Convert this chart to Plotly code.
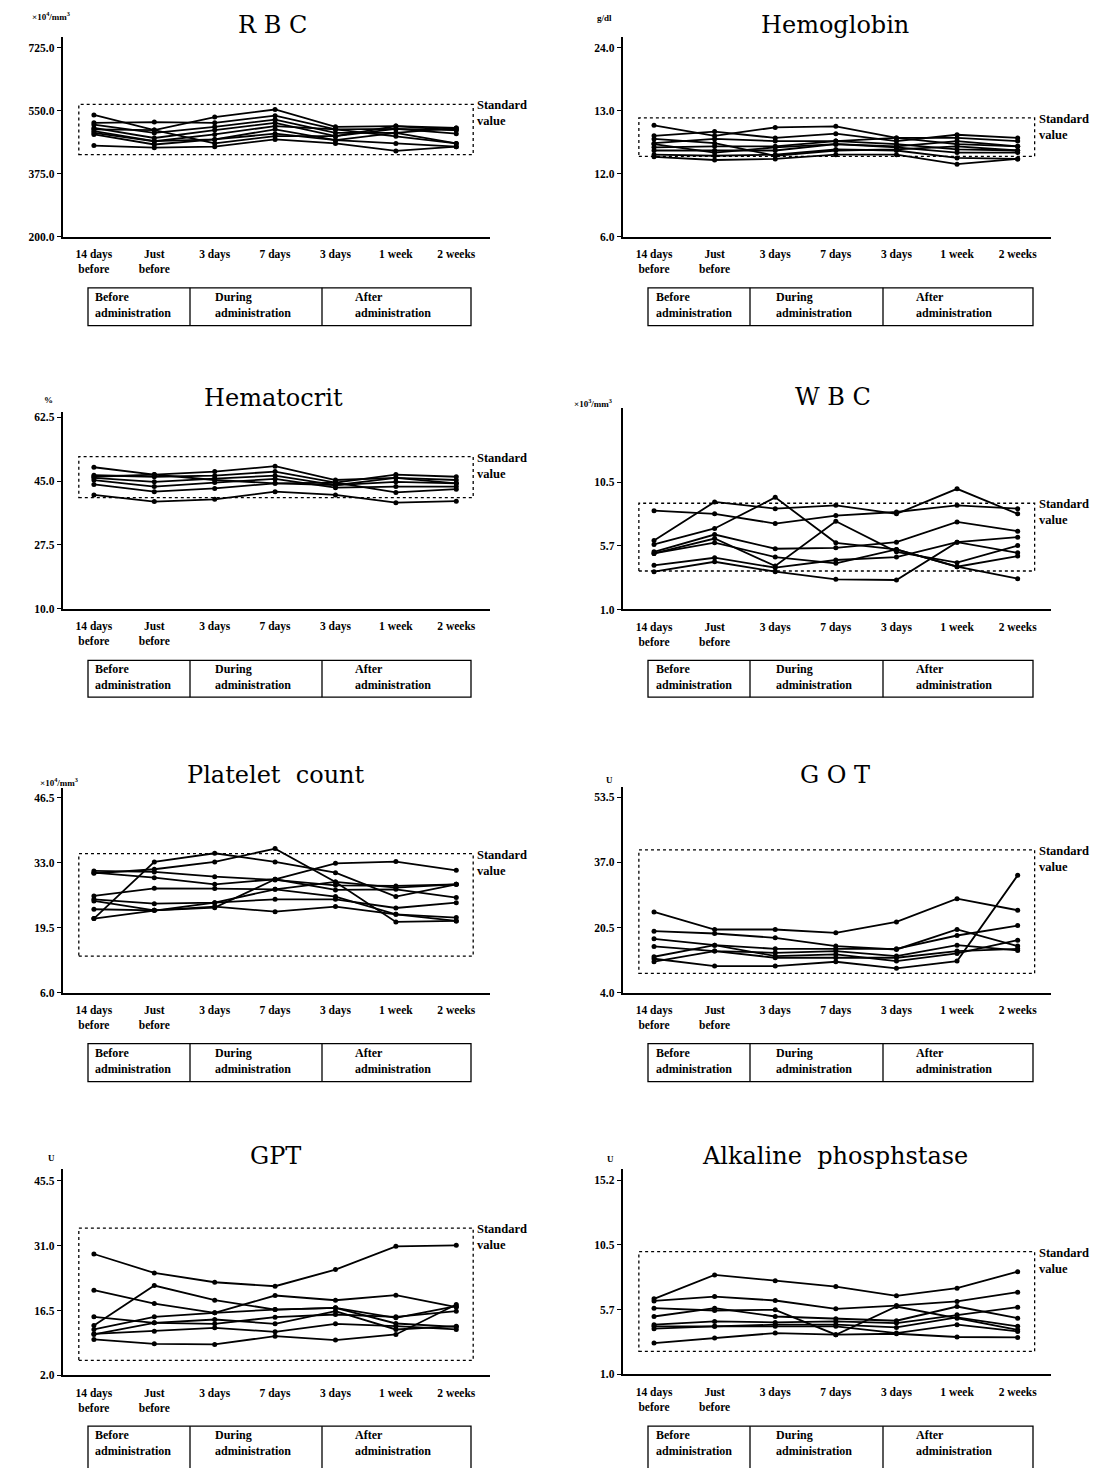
import plotly.graph_objects as go

# ---------------------------------------------------------------- data
timepoints = ["14 days<br>before", "Just<br>before", "3 days", "7 days",
              "3 days", "1 week", "2 weeks"]
phases = ["Before<br>administration", "During<br>administration",
          "After<br>administration"]

rbc = [
    [538, 496, 532, 553, 505, 507, 502],
    [516, 518, 516, 536, 498, 499, 496],
    [511, 488, 505, 525, 488, 488, 502],
    [502, 474, 496, 516, 479, 499, 486],
    [488, 465, 484, 507, 498, 479, 459],
    [484, 456, 470, 498, 468, 459, 450],
    [453, 447, 450, 470, 459, 438, 450],
    [498, 496, 459, 479, 479, 507, 496],
    [493, 465, 470, 486, 468, 488, 459],
]
rbc_std = [428, 567]

hemoglobin = [
    [16.6, 15.6, 16.4, 16.5, 15.4, 14.8, 14.6],
    [15.6, 16.0, 15.4, 15.8, 15.1, 15.7, 15.4],
    [14.9, 15.3, 15.1, 15.1, 15.4, 15.4, 15.1],
    [14.5, 14.6, 14.6, 15.1, 14.8, 14.3, 14.2],
    [14.2, 14.2, 14.2, 14.8, 14.5, 14.0, 14.0],
    [13.8, 13.7, 13.8, 14.3, 14.2, 13.5, 13.4],
    [13.6, 13.3, 13.4, 13.8, 13.8, 12.9, 13.4],
    [14.8, 14.0, 14.5, 14.8, 14.6, 15.1, 14.6],
    [15.3, 14.9, 13.7, 14.2, 14.3, 14.6, 14.2],
]
hemoglobin_std = [13.64, 17.3]

hematocrit = [
    [48.8, 46.8, 47.6, 49.1, 45.3, 45.9, 45.3],
    [46.6, 46.2, 46.5, 47.6, 44.6, 46.8, 46.2],
    [45.9, 44.8, 45.7, 46.5, 43.9, 44.8, 44.4],
    [45.3, 43.5, 44.6, 45.6, 43.2, 43.5, 43.5],
    [44.1, 42.1, 43.0, 44.4, 44.6, 41.9, 42.8],
    [41.2, 39.4, 40.0, 42.1, 41.2, 39.1, 39.5],
    [46.2, 46.8, 45.3, 44.4, 43.9, 45.9, 44.4],
]
hematocrit_std = [40.45, 51.7]

wbc = [
    [8.37, 8.13, 7.41, 8.00, 8.27, 8.77, 8.52],
    [6.15, 9.02, 8.52, 8.77, 8.13, 10.0, 8.13],
    [5.85, 7.04, 9.36, 5.97, 5.48, 4.19, 3.30],
    [5.30, 6.59, 5.53, 5.60, 6.02, 7.53, 6.84],
    [5.18, 6.29, 4.24, 7.58, 5.30, 4.49, 5.77],
    [4.29, 4.86, 4.12, 4.69, 4.91, 6.02, 6.39],
    [3.82, 4.56, 3.82, 3.25, 3.20, 6.02, 5.23],
    [5.18, 5.98, 4.91, 4.44, 5.48, 4.19, 4.98],
]
wbc_std = [3.87, 8.92]

platelet = [
    [21.37, 33.14, 34.94, 33.14, 30.92, 25.94, 28.50],
    [30.78, 31.62, 33.14, 35.91, 28.98, 20.68, 20.88],
    [31.27, 31.06, 30.09, 29.40, 28.29, 28.15, 28.50],
    [30.92, 29.88, 28.50, 29.54, 27.32, 27.46, 25.73],
    [26.08, 27.67, 27.60, 27.46, 28.98, 27.81, 28.50],
    [25.38, 24.48, 24.69, 25.38, 25.38, 23.58, 24.69],
    [23.31, 23.10, 23.65, 29.54, 32.86, 33.21, 31.41],
    [25.04, 23.10, 23.86, 22.82, 23.86, 22.27, 21.58],
    [21.37, 23.10, 24.69, 27.46, 25.94, 22.27, 20.88],
]
platelet_std = [13.6, 34.87]

got = [
    [24.46, 20.00, 20.00, 19.15, 21.93, 27.82, 24.88],
    [19.57, 18.99, 17.89, 15.79, 14.94, 20.00, 15.79],
    [17.64, 16.04, 15.11, 15.11, 15.11, 18.48, 21.01],
    [15.70, 14.52, 14.10, 14.52, 13.26, 16.04, 14.69],
    [13.09, 16.04, 13.26, 13.68, 12.00, 13.93, 17.30],
    [12.59, 10.74, 10.74, 11.83, 10.15, 12.00, 33.72],
    [11.83, 14.52, 12.84, 12.84, 12.84, 14.52, 15.11],
]
got_std = [8.88, 40.2]

gpt = [
    [29.14, 24.90, 22.82, 21.93, 25.65, 30.85, 31.07],
    [21.04, 18.06, 15.98, 16.72, 17.09, 14.86, 17.47],
    [13.15, 22.08, 18.80, 16.72, 17.09, 13.60, 12.86],
    [15.09, 13.75, 13.53, 15.01, 15.61, 15.09, 16.35],
    [12.26, 15.09, 15.98, 19.85, 18.80, 19.92, 17.24],
    [11.29, 11.89, 12.63, 11.74, 13.53, 12.99, 12.26],
    [10.03, 9.06, 8.91, 10.77, 9.88, 11.15, 17.84],
    [11.15, 13.75, 14.49, 13.53, 16.35, 12.26, 12.99],
]
gpt_std = [5.35, 34.94]

alp = [
    [6.52, 8.27, 7.85, 7.42, 6.74, 7.30, 8.51],
    [6.37, 6.69, 6.40, 5.79, 6.03, 6.33, 7.01],
    [5.84, 5.67, 5.72, 3.90, 5.96, 5.11, 4.26],
    [5.23, 5.84, 5.23, 5.06, 4.92, 5.96, 5.11],
    [4.63, 4.87, 4.80, 4.87, 4.75, 5.35, 5.91],
    [4.51, 4.51, 4.63, 4.63, 4.43, 5.16, 4.51],
    [4.34, 4.51, 4.51, 4.51, 4.02, 4.63, 4.14],
    [3.29, 3.66, 4.02, 3.90, 3.97, 3.73, 3.70],
]
alp_std = [2.68, 9.97]

titles = ["R B C", "Hemoglobin", "Hematocrit", "W B C",
          "Platelet  count", "G O T", "GPT", "Alkaline  phosphstase"]
units = ["×10<sup>4</sup>/mm<sup>3</sup>", "g/dl", "%", "×10<sup>3</sup>/mm<sup>3</sup>",
         "×10<sup>4</sup>/mm<sup>3</sup>", "U", "U", "U"]
y_tickvals = [
    [200, 375, 550, 725],
    [6, 12, 18, 24],
    [10, 27.5, 45, 62.5],
    [1.0, 5.75, 10.5],
    [6, 19.5, 33, 46.5],
    [4, 20.5, 37, 53.5],
    [2, 16.5, 31, 45.5],
    [1.0, 5.733, 10.467, 15.2],
]
y_ticktext = [
    ["200.0", "375.0", "550.0", "725.0"],
    ["6.0", "12.0", "13.0", "24.0"],
    ["10.0", "27.5", "45.0", "62.5"],
    ["1.0", "5.7", "10.5"],
    ["6.0", "19.5", "33.0", "46.5"],
    ["4.0", "20.5", "37.0", "53.5"],
    ["2.0", "16.5", "31.0", "45.5"],
    ["1.0", "5.7", "10.5", "15.2"],
]
y_ranges = [[200, 754.6], [6, 25.04], [10, 64.05], [1, 16.0],
            [6, 48.4], [4, 56.0], [2, 48.1], [1, 16.0]]
series = [rbc, hemoglobin, hematocrit, wbc, platelet, got, gpt, alp]
standards = [rbc_std, hemoglobin_std, hematocrit_std, wbc_std,
             platelet_std, got_std, gpt_std, alp_std]

# ---------------------------------------------------------------- layout geometry (pixels)
W, H = 1095, 1468
COL_X = [(62.5, 489.5), (622.5, 1051.0)]
PANEL_Y = [(37.0, 237.7), (36.7, 237.7), (413.3, 611.3), (410.0, 612.0),
           (791.7, 996.7), (790.7, 996.7), (1174.0, 1381.0), (1174.0, 1380.0)]
TITLE_POS = [(272, 25), (835, 25), (273, 400), (833, 399),
             (276, 778), (835, 778), (275, 1161), (835, 1161)]
UNIT_POS = [(51, 16), (604, 18), (48, 402), (593, 405),
            (59, 785), (609, 783), (51, 1163), (610, 1164)]
PHASE_ROWS = [(289, 327), (663, 700), (1048, 1086), (1432, 1478)]
PHASE_COLS = [dict(x=(88, 471), div=(190, 322), tx=(93, 213, 353)),
              dict(x=(648, 1033), div=(750, 883), tx=(654, 774, 914))]
X_RANGE = [-0.52, 6.55]
STD_X = [-0.25, 6.28]

SERIF = "Liberation Serif"
TITLE_FONT = dict(family="DejaVu Serif", size=24, color="black")
SMALL_FONT = dict(family=SERIF, size=11.5, color="black", weight="bold")


def px(x):
    return x / W


def py(y):
    return 1 - y / H


fig = go.Figure()
shapes = []
annotations = []

for i in range(8):
    n = i + 1
    col = i % 2
    row = i // 2
    xa = "x" if n == 1 else f"x{n}"
    ya = "y" if n == 1 else f"y{n}"
    xkey = "xaxis" if n == 1 else f"xaxis{n}"
    ykey = "yaxis" if n == 1 else f"yaxis{n}"

    for values in series[i]:
        fig.add_trace(go.Scatter(
            x=list(range(len(timepoints))), y=values, xaxis=xa, yaxis=ya,
            mode="lines+markers", line=dict(color="black", width=1.8),
            marker=dict(color="black", size=5), showlegend=False,
            hoverinfo="skip"))

    x0, x1 = COL_X[col]
    ytop, ybot = PANEL_Y[i]
    fig.update_layout({
        xkey: dict(domain=[px(x0), px(x1)], anchor=ya, range=X_RANGE,
                   showline=True, linecolor="black", linewidth=1.5,
                   showgrid=False, zeroline=False, ticks="",
                   tickmode="array", tickvals=list(range(len(timepoints))),
                   ticktext=timepoints, tickfont=SMALL_FONT,
                   ticklabelstandoff=6, fixedrange=True),
        ykey: dict(domain=[py(ybot), py(ytop)], anchor=xa, range=y_ranges[i],
                   showline=True, linecolor="black", linewidth=1.5,
                   showgrid=False, zeroline=False, ticks="outside",
                   ticklen=4, tickwidth=1.2, tickcolor="black",
                   tickmode="array", tickvals=y_tickvals[i],
                   ticktext=y_ticktext[i], tickfont=SMALL_FONT,
                   fixedrange=True),
    })

    # standard value range
    lo, hi = standards[i]
    shapes.append(dict(type="rect", xref=xa, yref=ya, x0=STD_X[0], x1=STD_X[1],
                       y0=lo, y1=hi, line=dict(color="black", width=1.3, dash="dot"),
                       layer="below"))
    annotations.append(dict(xref=xa, yref=ya, x=STD_X[1], y=hi, xanchor="left",
                            yanchor="top", xshift=2, yshift=8, align="left",
                            text="Standard<br>value", showarrow=False,
                            font=dict(family=SERIF, size=12.5, color="black",
                                      weight="bold")))

    # panel title and unit
    tx, ty = TITLE_POS[i]
    annotations.append(dict(xref="paper", yref="paper", x=px(tx), y=py(ty),
                            xanchor="center", yanchor="middle", text=titles[i],
                            showarrow=False, font=TITLE_FONT))
    ux, uy = UNIT_POS[i]
    annotations.append(dict(xref="paper", yref="paper", x=px(ux), y=py(uy),
                            xanchor="center", yanchor="middle", text=units[i],
                            showarrow=False,
                            font=dict(family=SERIF, size=9, color="black",
                                      weight="bold")))

    # administration phase box
    pc = PHASE_COLS[col]
    r0, r1 = PHASE_ROWS[row]
    shapes.append(dict(type="rect", xref="paper", yref="paper",
                       x0=px(pc["x"][0]), x1=px(pc["x"][1]), y0=py(r1), y1=py(r0),
                       line=dict(color="black", width=1.3)))
    for d in pc["div"]:
        shapes.append(dict(type="line", xref="paper", yref="paper",
                           x0=px(d), x1=px(d), y0=py(r1), y1=py(r0),
                           line=dict(color="black", width=1.3)))
    mid = (r0 + r1) / 2 - 2 if row < 3 else r0 + 17
    for label, lx in zip(phases, pc["tx"]):
        annotations.append(dict(xref="paper", yref="paper", x=px(lx), y=py(mid),
                                xanchor="left", yanchor="middle", align="left",
                                text=label, showarrow=False,
                                font=dict(family=SERIF, size=12, color="black",
                                          weight="bold")))

fig.update_layout(width=W, height=H, margin=dict(l=0, r=0, t=0, b=0),
                  paper_bgcolor="white", plot_bgcolor="white",
                  showlegend=False, shapes=shapes, annotations=annotations)

fig.write_html("out.html", config=dict(displayModeBar=False))
